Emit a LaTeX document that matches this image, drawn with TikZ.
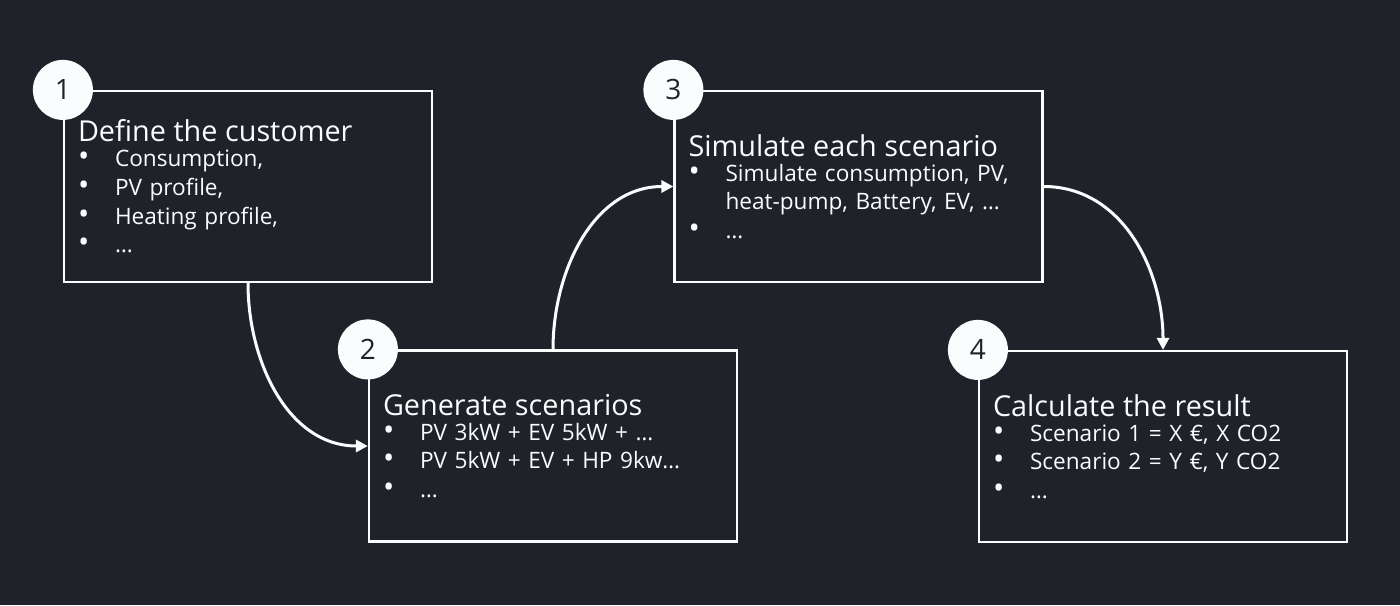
\documentclass[tikz,border=0pt]{standalone}
\usepackage{fontspec}
\setmainfont{Open Sans}
\usetikzlibrary{arrows.meta, positioning}
\definecolor{mybg}{RGB}{31,35,41}
\definecolor{mywhite}{RGB}{250,252,253}
\newcommand{\itm}[1]{\makebox[18.5pt][l]{{\fontsize{15}{0}\selectfont\textbullet}}#1}
\newcommand{\cont}[1]{\hspace*{18.5pt}#1}
\newcommand{\steptitle}[1]{{\fontsize{14.4}{15}\selectfont #1}\\[-1.8pt]}
\tikzset{
  stepbox/.style={rectangle, draw=mywhite, line width=1.1pt,
    minimum width=184pt, minimum height=95.5pt, text width=170pt,
    align=left, text=mywhite, font=\fontsize{11.3}{14.3}\selectfont},
  numcirc/.style={circle, fill=mywhite, minimum size=30pt, inner sep=0pt,
    text=mybg, font=\fontsize{14}{14}\selectfont},
  arrow/.style={-{Triangle[length=6pt,width=6pt]}, line width=1.5pt, color=mywhite}
}

\begin{document}
\begin{tikzpicture}[x=0.5pt, y=-0.5pt]
  % Background
  \fill[mybg] (0,0) rectangle (1400,605);
  \useasboundingbox (0,0) rectangle (1400,605);

  % Steps
  \node[stepbox] (define) at (248,186.5) {\steptitle{Define the customer}
    \itm{Consumption,}\\ \itm{PV profile,}\\ \itm{Heating profile,}\\ \itm{\ldots}};
  \node[stepbox] (generate) at (553,446) {\steptitle{Generate scenarios}
    \itm{PV 3kW + EV 5kW + \ldots}\\ \itm{PV 5kW + EV + HP 9kw\ldots}\\ \itm{\ldots}};
  \node[stepbox] (simulate) at (858.5,186.5) {\steptitle{Simulate each scenario}
    \itm{Simulate consumption, PV,}\\ \cont{heat-pump, Battery, EV, \ldots}\\ \itm{\ldots}};
  \node[stepbox] (calculate) at (1163,446.5) {\steptitle{Calculate the result}
    \itm{Scenario 1 = X €, X CO2}\\ \itm{Scenario 2 = Y €, Y CO2}\\ \itm{\ldots}};

  % Numbers
  \node[numcirc] (num1) at (define.north west) {1};
  \node[numcirc] (num2) at (generate.north west) {2};
  \node[numcirc] (num3) at (simulate.north west) {3};
  \node[numcirc] (num4) at (calculate.north west) {4};

  % Flow
  \draw[arrow] (define.south) to[out=-90, in=180] (generate.west);
  \draw[arrow] (generate.north) to[out=90, in=180] (simulate.west);
  \draw[arrow] (simulate.east) to[out=0, in=90] (calculate.north);
\end{tikzpicture}
\end{document}
